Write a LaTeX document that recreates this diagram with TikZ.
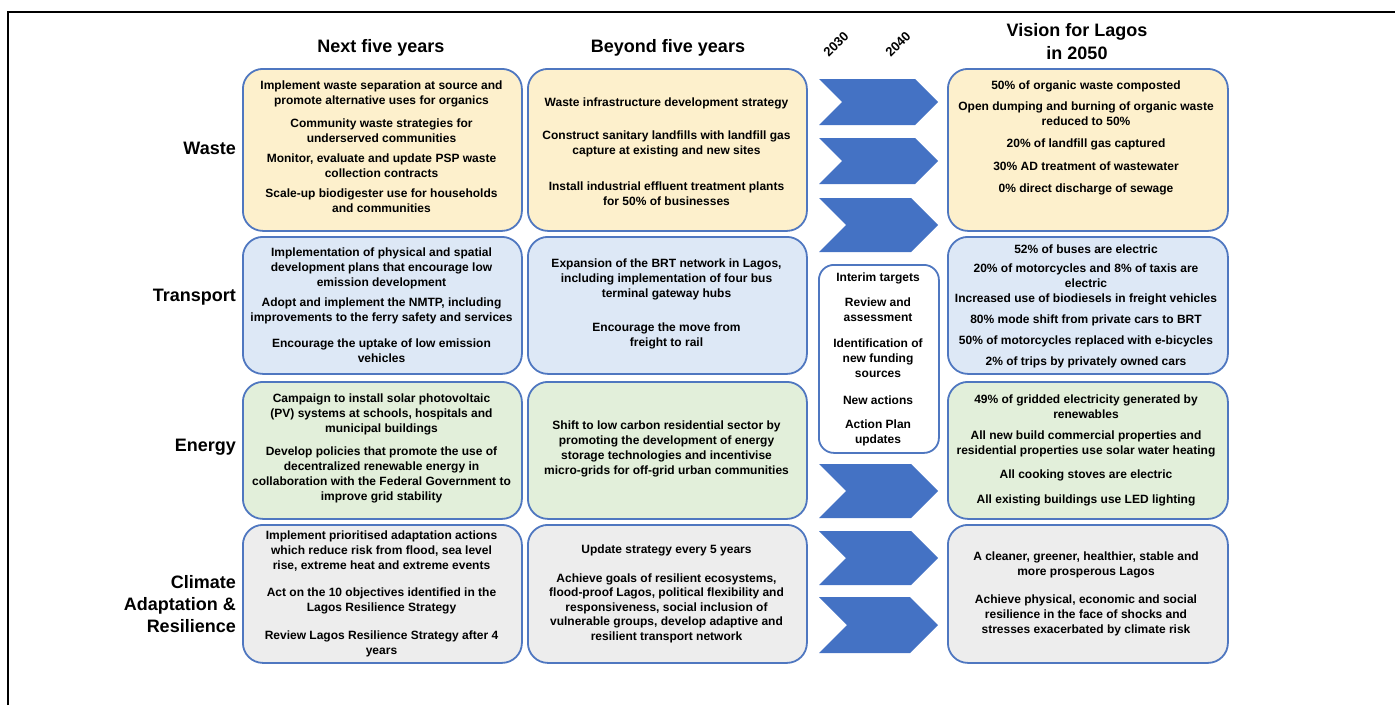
\documentclass[tikz,border=0pt]{standalone}
\usepackage{fontspec}
\setmainfont{Liberation Sans}
\definecolor{boxblue}{HTML}{4F77C0}
\definecolor{chevblue}{HTML}{4472C4}
\definecolor{wastefill}{HTML}{FDF0CC}
\definecolor{transfill}{HTML}{DDE8F6}
\definecolor{energyfill}{HTML}{E2EFDA}
\definecolor{climfill}{HTML}{EDEDED}
\newcommand{\chevronshape}[3]{% left x, top y, bottom y
  \fill[chevblue] (#1,#2) -- ({938-(#3-#2)/2},#2) -- (938,{(#2+#3)/2}) -- ({938-(#3-#2)/2},#3) -- (#1,#3) -- ({#1+(#3-#2)/2},{(#2+#3)/2}) -- cycle;}
\begin{document}
\begin{tikzpicture}[x=1pt,y=-1pt,
  bigbox/.style={draw=boxblue, line width=1.8pt, rounded corners=20pt, anchor=north west, inner sep=0pt},
  txt/.style={font=\bfseries\fontsize{12}{15}\selectfont, align=center, inner sep=0pt},
  title/.style={font=\bfseries\fontsize{18}{23}\selectfont, align=center, inner sep=0pt},
  rowlab/.style={font=\bfseries\fontsize{18}{22}\selectfont, align=right, anchor=east, inner sep=0pt},
  year/.style={font=\bfseries\fontsize{13}{15}\selectfont, rotate=45, inner sep=0pt}]
\useasboundingbox (0,0) rectangle (1395,705);
% frame
\draw[line width=2pt] (8,705) -- (8,12) -- (1395,12);
% titles
\node[title] (t1) at (381,48) {Next five years};
\node[title] (t2) at (668,48) {Beyond five years};
\node[title] (t3) at (1077,42) {Vision for Lagos\\in 2050};
\node[year] (y1) at (836,44) {2030};
\node[year] (y2) at (898,44) {2040};
% row labels
\node[rowlab] (lw) at (236,148) {Waste};
\node[rowlab] (lt) at (236,297) {Transport};
\node[rowlab] (le) at (236,447) {Energy};
\node[rowlab] (lc) at (236,604) {Climate\\Adaptation \&\\Resilience};
% boxes
\foreach \nm/\x/\w in {a/242/279, b/527/279, c/947/280}{
  \node[bigbox, fill=wastefill, minimum width=\w pt, minimum height=162pt] (w\nm) at (\x,68) {};
  \node[bigbox, fill=transfill, minimum width=\w pt, minimum height=137pt] (r\nm) at (\x,236) {};
  \node[bigbox, fill=energyfill, minimum width=\w pt, minimum height=137pt] (e\nm) at (\x,381) {};
  \node[bigbox, fill=climfill, minimum width=\w pt, minimum height=138pt] (c\nm) at (\x,524) {};
}
% interim box
\node[draw=boxblue, line width=1.8pt, rounded corners=15pt, fill=white, anchor=north west, minimum width=120pt, minimum height=188pt] (ib) at (818,264) {};
% chevrons
\chevronshape{819}{79}{125}
\chevronshape{819}{138}{184}
\chevronshape{819}{198}{252}
\chevronshape{819}{464}{518}
\chevronshape{819}{531}{585}
\chevronshape{819}{597}{653}
% ---- Waste texts
\node[txt] (wa1) at (381.5,93.5) {Implement waste separation at source and\\promote alternative uses for organics};
\node[txt] (wa2) at (381.5,130.5) {Community waste strategies for\\underserved communities};
\node[txt] (wa3) at (381.5,165.5) {Monitor, evaluate and update PSP waste\\collection contracts};
\node[txt] (wa4) at (381.5,200.5) {Scale-up biodigester use for households\\and communities};
\node[txt] (wb1) at (666.5,103) {Waste infrastructure development strategy};
\node[txt] (wb2) at (666.5,143.5) {Construct sanitary landfills with landfill gas\\capture at existing and new sites};
\node[txt] (wb3) at (666.5,193.5) {Install industrial effluent treatment plants\\for 50\% of businesses};
\node[txt] (wc1) at (1086,86) {50\% of organic waste composted};
\node[txt] (wc2) at (1086,113.5) {Open dumping and burning of organic waste\\reduced to 50\%};
\node[txt] (wc3) at (1086,144) {20\% of landfill gas captured};
\node[txt] (wc4) at (1086,166) {30\% AD treatment of wastewater};
\node[txt] (wc5) at (1086,189) {0\% direct discharge of sewage};
% ---- Transport texts
\node[txt] (ra1) at (381.5,268) {Implementation of physical and spatial\\development plans that encourage low\\emission development};
\node[txt] (ra2) at (381.5,310.5) {Adopt and implement the NMTP, including\\improvements to the ferry safety and services};
\node[txt] (ra3) at (381.5,350.5) {Encourage the uptake of low emission\\vehicles};
\node[txt] (rb1) at (666.5,279) {Expansion of the BRT network in Lagos,\\including implementation of four bus\\terminal gateway hubs};
\node[txt] (rb2) at (666.5,335.5) {Encourage the move from\\freight to rail};
\node[txt] (rc1) at (1086,249) {52\% of buses are electric};
\node[txt] (rc2) at (1086,275.5) {20\% of motorcycles and 8\% of taxis are\\electric};
\node[txt] (rc3) at (1086,299) {Increased use of biodiesels in freight vehicles};
\node[txt] (rc4) at (1086,320) {80\% mode shift from private cars to BRT};
\node[txt] (rc5) at (1086,341) {50\% of motorcycles replaced with e-bicycles};
\node[txt] (rc6) at (1086,362) {2\% of trips by privately owned cars};
% ---- Interim texts
\node[txt] (i1) at (878,278) {Interim targets};
\node[txt] (i2) at (878,310) {Review and\\assessment};
\node[txt] (i3) at (878,358) {Identification of\\new funding\\sources};
\node[txt] (i4) at (878,400) {New actions};
\node[txt] (i5) at (878,432.5) {Action Plan\\updates};
% ---- Energy texts
\node[txt] (ea1) at (381.5,414) {Campaign to install solar photovoltaic\\(PV) systems at schools, hospitals and\\municipal buildings};
\node[txt] (ea2) at (381.5,474.5) {Develop policies that promote the use of\\decentralized renewable energy in\\collaboration with the Federal Government to\\improve grid stability};
\node[txt] (eb1) at (666.5,449) {Shift to low carbon residential sector by\\promoting the development of energy\\storage technologies and incentivise\\micro-grids for off-grid urban communities};
\node[txt] (ec1) at (1086,407) {49\% of gridded electricity generated by\\renewables};
\node[txt] (ec2) at (1086,443.5) {All new build commercial properties and\\residential properties use solar water heating};
\node[txt] (ec3) at (1086,475) {All cooking stoves are electric};
\node[txt] (ec4) at (1086,500) {All existing buildings use LED lighting};
% ---- Climate texts
\node[txt] (ca1) at (381.5,551) {Implement prioritised adaptation actions\\which reduce risk from flood, sea level\\rise, extreme heat and extreme events};
\node[txt] (ca2) at (381.5,600.5) {Act on the 10 objectives identified in the\\Lagos Resilience Strategy};
\node[txt] (ca3) at (381.5,643.5) {Review Lagos Resilience Strategy after 4\\years};
\node[txt] (cb1) at (666.5,550) {Update strategy every 5 years};
\node[txt, font=\bfseries\fontsize{12}{14.5}\selectfont] (cb2) at (666.5,608) {Achieve goals of resilient ecosystems,\\flood-proof Lagos, political flexibility and\\responsiveness, social inclusion of\\vulnerable groups, develop adaptive and\\resilient transport network};
\node[txt] (cc1) at (1086,564.5) {A cleaner, greener, healthier, stable and\\more prosperous Lagos};
\node[txt] (cc2) at (1086,615) {Achieve physical, economic and social\\resilience in the face of shocks and\\stresses exacerbated by climate risk};
\end{tikzpicture}
\end{document}
